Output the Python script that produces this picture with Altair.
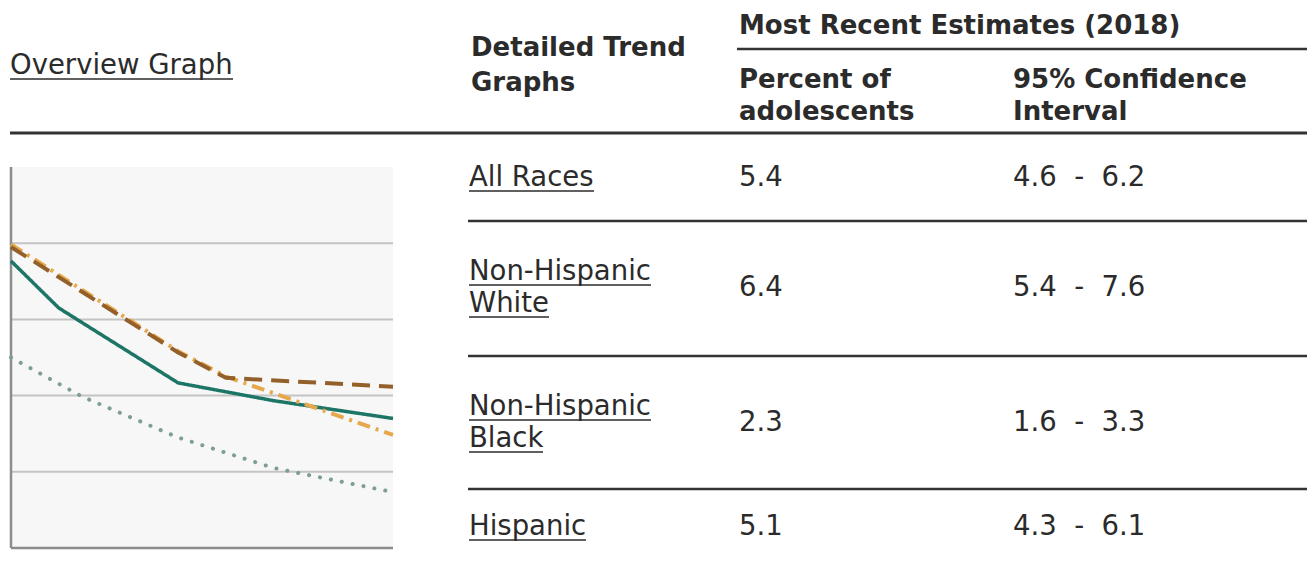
import altair as alt
import pandas as pd

# ---------------- data ----------------
YEARS_ALL = [2002, 2004, 2009, 2013, 2018]
VALS_ALL = [11.3, 9.45, 6.5, 5.8, 5.1]
YEARS_WHITE = [2002, 2009, 2011, 2018]
VALS_WHITE = [11.85, 7.7, 6.7, 6.35]
YEARS_HISP = [2002, 2009, 2011, 2018]
VALS_HISP = [11.95, 7.75, 6.75, 4.45]
YEARS_BLACK = [2002, 2005, 2009, 2013, 2018]
VALS_BLACK = [7.5, 5.95, 4.35, 3.15, 2.2]
GRID_VALUES = [3, 6, 9, 12]

SERIES = ["All Races", "Non-Hispanic White", "Non-Hispanic Black", "Hispanic"]
RACE_LINES = [["All Races"], ["Non-Hispanic", "White"], ["Non-Hispanic", "Black"], ["Hispanic"]]
PERCENT = ["5.4", "6.4", "2.3", "5.1"]
CI_LOW = ["4.6", "5.4", "1.6", "4.3"]
CI_HIGH = ["6.2", "7.6", "3.3", "6.1"]

HEADER_OVERVIEW = "Overview Graph"
HEADER_DETAILED = ["Detailed Trend", "Graphs"]
HEADER_RECENT = "Most Recent Estimates (2018)"
HEADER_PCT = ["Percent of", "adolescents"]
HEADER_CI = ["95% Confidence", "Interval"]

# ---------------- layout / style ----------------
W, H = 1299, 557
FONT = "DejaVu Sans"
FS = 27.5
FS_BOLD = 26
TXT = "#2b2b2b"
X_RANGE = [3, 385]
Y_RANGE = [540, 159]
NB = "\u00a0"
ROW_Y = [170, 280, 415, 519]
ROW_RULES = [213, 348, 481]
LINE_GAP = 32
COL_RACE, COL_PCT, COL_CI = 461, 731, 1005
RACE_UL = [[125], [182, 80], [182, 74], [117]]

# draw order, colour, dash, width, cap
STYLES = [
    ("Non-Hispanic Black", "#7d9e92", [0.1, 11], 4, "round"),
    ("All Races", "#1d7565", [1, 0], 3.5, "butt"),
    ("Hispanic", "#e6a84a", [13, 6, 3, 6], 4, "butt"),
    ("Non-Hispanic White", "#93602b", [18, 9], 4, "butt"),
]

rows = []
for name, ys, vs in zip(SERIES, [YEARS_ALL, YEARS_WHITE, YEARS_BLACK, YEARS_HISP],
                        [VALS_ALL, VALS_WHITE, VALS_BLACK, VALS_HISP]):
    for y, v in zip(ys, vs):
        rows.append({"series": name, "year": y, "value": v})
lines_df = pd.DataFrame(rows)

xs = alt.Scale(domain=[2002, 2018], range=X_RANGE)
ys_ = alt.Scale(domain=[0, 15], range=Y_RANGE)

bg = alt.Chart(pd.DataFrame({"x": [2002], "x2": [2018], "y": [0], "y2": [15]})).mark_rect(
    color="#f7f7f7").encode(
    x=alt.X("x:Q", scale=xs, axis=None), x2="x2:Q",
    y=alt.Y("y:Q", scale=ys_, axis=None), y2="y2:Q")

grid = alt.Chart(pd.DataFrame({"g": GRID_VALUES})).mark_rule(color="#c4c4c4", strokeWidth=2).encode(
    y=alt.Y("g:Q", scale=ys_, axis=None), x=alt.value(X_RANGE[0]), x2=alt.value(X_RANGE[1]))

axis_y = alt.Chart(pd.DataFrame({"x": [2002], "y": [0], "y2": [15]})).mark_rule(
    color="#8c8c8c", strokeWidth=2.5).encode(
    x=alt.X("x:Q", scale=xs, axis=None), y=alt.Y("y:Q", scale=ys_, axis=None), y2="y2:Q")
axis_x = alt.Chart(pd.DataFrame({"x": [2002], "x2": [2018], "y": [0]})).mark_rule(
    color="#8c8c8c", strokeWidth=2.5).encode(
    x=alt.X("x:Q", scale=xs, axis=None), x2="x2:Q", y=alt.Y("y:Q", scale=ys_, axis=None))

layers = [bg, grid, axis_y, axis_x]
for name, col, dash, sw, cap in STYLES:
    layers.append(
        alt.Chart(lines_df).transform_filter(alt.datum.series == name).mark_line(
            strokeWidth=sw, color=col, strokeDash=dash, strokeCap=cap
        ).encode(
            x=alt.X("year:Q", scale=xs, axis=None),
            y=alt.Y("value:Q", scale=ys_, axis=None),
            order=alt.Order("year:Q"),
        )
    )


def text_layer(txt, x, y, bold=False, font=FONT):
    return alt.Chart(pd.DataFrame({"t": [txt]})).mark_text(
        align="left", baseline="middle", font=font, fontSize=FS_BOLD if bold else FS,
        fontWeight="bold" if bold else "normal", color=TXT).encode(
        text="t:N", x=alt.value(x), y=alt.value(y))


def hrule(x1, x2, y, w=2.5, color="#333333"):
    return alt.Chart(pd.DataFrame({"k": [0]})).mark_rule(color=color, strokeWidth=w).encode(
        x=alt.value(x1), x2=alt.value(x2), y=alt.value(y))


# headers
layers.append(text_layer(HEADER_OVERVIEW, 2, 58))
layers.append(hrule(2, 225, 71, w=1.5, color=TXT))
layers.append(text_layer(HEADER_DETAILED[0], 463, 40, bold=True))
layers.append(text_layer(HEADER_DETAILED[1], 463, 75, bold=True))
layers.append(text_layer(HEADER_RECENT, COL_PCT, 18, bold=True))
layers.append(hrule(COL_PCT - 2, W, 41))
layers.append(text_layer(HEADER_PCT[0], COL_PCT, 72, bold=True))
layers.append(text_layer(HEADER_PCT[1], COL_PCT, 104, bold=True))
layers.append(text_layer(HEADER_CI[0], COL_CI, 72, bold=True))
layers.append(text_layer(HEADER_CI[1], COL_CI, 104, bold=True))
layers.append(hrule(2, W, 125, w=3))

# rows
for i in range(4):
    n = len(RACE_LINES[i])
    y0 = ROW_Y[i] - (n - 1) * LINE_GAP / 2
    for j, ln in enumerate(RACE_LINES[i]):
        yy = y0 + j * LINE_GAP
        layers.append(text_layer(ln, COL_RACE, yy))
        layers.append(hrule(COL_RACE, COL_RACE + RACE_UL[i][j], yy + 13, w=1.5, color=TXT))
    layers.append(text_layer(PERCENT[i], COL_PCT, ROW_Y[i]))
    layers.append(text_layer(f"{CI_LOW[i]}{NB}{NB}-{NB}{NB}{CI_HIGH[i]}", COL_CI, ROW_Y[i]))
for ysep in ROW_RULES:
    layers.append(hrule(COL_RACE - 1, W, ysep))

chart = alt.layer(*layers).properties(
    width=W, height=H, autosize="none", padding=0
).configure_view(stroke=None)

chart.save("out.html", embed_options={"renderer": "svg", "actions": False})
